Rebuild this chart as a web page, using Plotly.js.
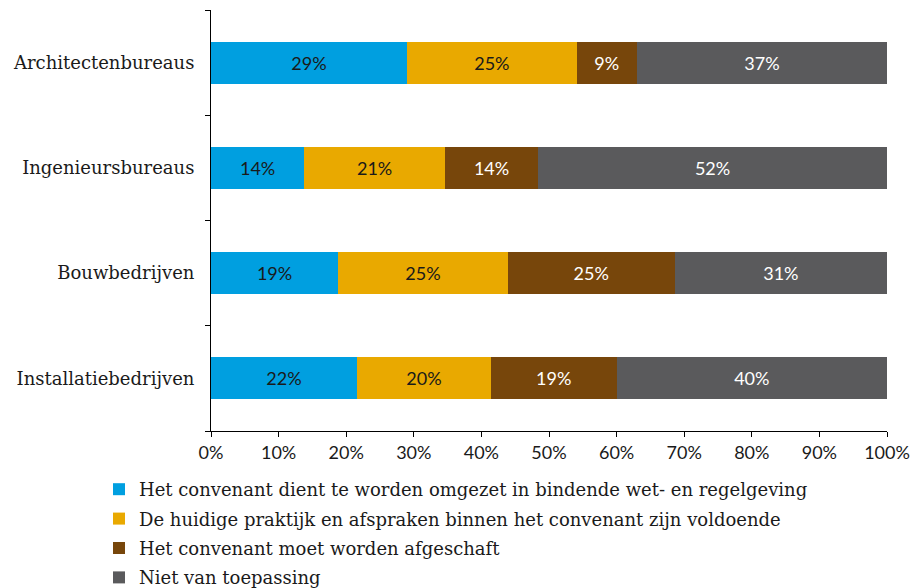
<!DOCTYPE html>
<html>
<head>
<meta charset="utf-8">
<script src="https://cdn.plot.ly/plotly-3.0.1.min.js"></script>
<style>html,body{margin:0;padding:0;background:#fff;}#chart{width:914px;height:588px;}</style>
</head>
<body>
<div id="chart"></div>
<script>
const categories = ["Architectenbureaus", "Ingenieursbureaus", "Bouwbedrijven", "Installatiebedrijven"];
const seriesNames = [
  "Het convenant dient te worden omgezet in bindende wet- en regelgeving",
  "De huidige praktijk en afspraken binnen het convenant zijn voldoende",
  "Het convenant moet worden afgeschaft",
  "Niet van toepassing"
];
const omzetten = [29.0, 13.8, 18.8, 21.6];
const voldoende = [25.1, 20.8, 25.1, 19.8];
const afschaffen = [8.9, 13.8, 24.7, 18.6];
const nvt = [37.0, 51.6, 31.4, 40.0];
const xTicks = [0, 10, 20, 30, 40, 50, 60, 70, 80, 90, 100];

const colors = ["#009FE0", "#E9A900", "#77460B", "#5A5A5C"];
const textColors = ["#1a1a1a", "#1a1a1a", "#ffffff", "#ffffff"];
const values = [omzetten, voldoende, afschaffen, nvt];

const traces = values.map((v, i) => ({
  type: "bar",
  orientation: "h",
  name: seriesNames[i],
  legendgroup: "g" + i,
  y: categories,
  x: v,
  marker: {color: colors[i], line: {width: 0}},
  texttemplate: "%{x:.0f}%",
  textposition: "inside",
  insidetextanchor: "middle",
  textangle: 0,
  constraintext: "none",
  textfont: {family: "Lato, sans-serif", size: 18, color: textColors[i]},
  hoverinfo: "skip"
}));

const layout = {
  width: 914, height: 588,
  margin: {l: 211, r: 27, t: 10, b: 157, autoexpand: false},
  paper_bgcolor: "#fff", plot_bgcolor: "#fff",
  barmode: "stack",
  bargap: 0.6,
  showlegend: true,
  legend: {
    orientation: "v",
    x: -0.1657, xanchor: "left",
    y: -0.095, yanchor: "top",
    font: {family: "DejaVu Serif, serif", size: 18, color: "#1a1a1a"},
    itemwidth: 30,
    tracegroupgap: 3,
    traceorder: "grouped"
  },
  xaxis: {
    range: [0, 100],
    tickvals: xTicks,
    ticktext: xTicks.map(t => t + "%"),
    ticks: "outside", ticklen: 5, tickcolor: "#000",
    showline: true, linecolor: "#000", linewidth: 1,
    showgrid: false, zeroline: false,
    automargin: false,
    tickfont: {family: "Lato, sans-serif", size: 18, color: "#1a1a1a"}
  },
  yaxis: {
    type: "category",
    categoryorder: "array",
    categoryarray: categories.slice().reverse(),
    tickson: "boundaries",
    ticks: "outside", ticklen: 5, tickcolor: "#000",
    showline: true, linecolor: "#000", linewidth: 1,
    showgrid: false, zeroline: false,
    automargin: false,
    ticklabelstandoff: 12,
    tickfont: {family: "DejaVu Serif, serif", size: 18, color: "#1a1a1a"}
  }
};

Plotly.newPlot("chart", traces, layout, {displayModeBar: false, staticPlot: true});
</script>
</body>
</html>
